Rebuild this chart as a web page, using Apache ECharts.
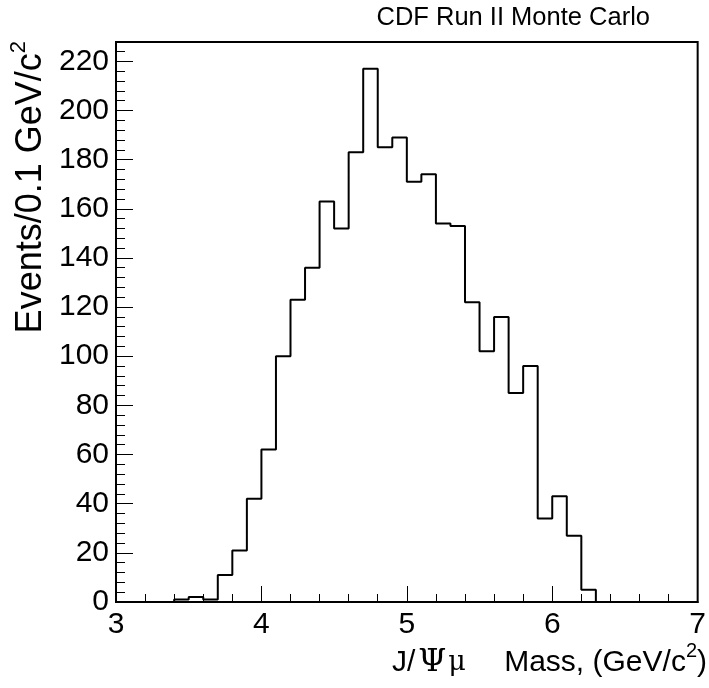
<!DOCTYPE html>
<html>
<head>
<meta charset="utf-8">
<script src="https://cdn.jsdelivr.net/npm/echarts@6/dist/echarts.min.js"></script>
<style>
  html, body { margin: 0; padding: 0; background: #fff; }
  #massChart { width: 709px; height: 688px; }
</style>
</head>
<body>
<div id="massChart"></div>
<script>
// bin low edges (GeV/c^2), 0.1 wide
var binLow = [3.0, 3.1, 3.2, 3.3, 3.4, 3.5, 3.6, 3.7, 3.8, 3.9,
              4.0, 4.1, 4.2, 4.3, 4.4, 4.5, 4.6, 4.7, 4.8, 4.9,
              5.0, 5.1, 5.2, 5.3, 5.4, 5.5, 5.6, 5.7, 5.8, 5.9,
              6.0, 6.1, 6.2, 6.3, 6.4, 6.5, 6.6, 6.7, 6.8, 6.9];
var binHigh = 7.0;
var counts = [0, 0, 0, 0, 1, 2, 1, 11, 21, 42,
              62, 100, 123, 136, 163, 152, 183, 217, 185, 189,
              171, 174, 154, 153, 122, 102, 116, 85, 96, 34,
              43, 27, 5, 0, 0, 0, 0, 0, 0, 0];
var xTicks = [3, 4, 5, 6, 7];
var yTicks = [0, 20, 40, 60, 80, 100, 120, 140, 160, 180, 200, 220];

var massChart = echarts.init(document.getElementById('massChart'));

var histData = [];
binLow.forEach(function (x, i) {
    histData.push([x, counts[i]]);
});
histData.push([binHigh, counts[counts.length - 1]]);

var yMax = Math.max.apply(null, counts) * 1.05;
var font = 'Liberation Sans, Arial, sans-serif';
var serif = 'DejaVu Serif, Liberation Serif, serif';

var option = {
    animation: false,
    backgroundColor: '#fff',
    grid: {
        left: 116,
        right: 7,
        top: 42,
        bottom: 86,
        show: true,
        borderColor: '#000',
        borderWidth: 2,
        backgroundColor: 'transparent'
    },
    xAxis: {
        type: 'value',
        min: xTicks[0],
        max: xTicks[xTicks.length - 1],
        interval: 1,
        axisLine: { show: true, lineStyle: { color: '#000', width: 2 } },
        axisTick: { inside: true, length: 16, lineStyle: { color: '#000', width: 1 } },
        minorTick: { show: true, splitNumber: 5, length: 8, lineStyle: { color: '#000', width: 1 } },
        splitLine: { show: false },
        axisLabel: { color: '#000', fontSize: 30, fontFamily: font, margin: 8 }
    },
    yAxis: {
        type: 'value',
        min: yTicks[0],
        max: yMax,
        interval: 20,
        axisLine: { show: true, lineStyle: { color: '#000', width: 2 } },
        axisTick: { inside: true, length: 17, lineStyle: { color: '#000', width: 1 } },
        minorTick: { show: true, splitNumber: 5, length: 9, lineStyle: { color: '#000', width: 1 } },
        splitLine: { show: false },
        axisLabel: {
            color: '#000', fontSize: 30, fontFamily: font, margin: 7,
            showMaxLabel: false
        }
    },
    graphic: [
        {
            type: 'text',
            right: 59,
            top: 5,
            style: { text: 'CDF Run II Monte Carlo', fill: '#000', fontSize: 25.5, fontFamily: font }
        },
        {
            // y title, reads bottom to top, top end at the frame
            type: 'text',
            x: 31,
            y: 41,
            rotation: Math.PI / 2,
            style: {
                text: '{a|Events/0.1 GeV/c}{sup|2}',
                textAlign: 'right',
                textVerticalAlign: 'middle',
                rich: {
                    a: { fill: '#000', fontSize: 36, fontFamily: font, lineHeight: 46 },
                    sup: { fill: '#000', fontSize: 22, fontFamily: font, lineHeight: 22, verticalAlign: 'top' }
                }
            }
        },
        {
            type: 'text',
            right: 2,
            top: 641,
            style: {
                text: '{a|J/}{psi|Ψ}{mu|μ}{a| Mass, (GeV/c}{sup|2}{a|)}',
                rich: {
                    a: { fill: '#000', fontSize: 30, fontFamily: font, lineHeight: 44 },
                    psi: { fill: '#000', fontSize: 32, fontFamily: serif, lineHeight: 44, padding: [0, 2, 0, 3] },
                    mu: { fill: '#000', fontSize: 27, fontFamily: serif, lineHeight: 44, padding: [0, 30, 0, 0] },
                    sup: { fill: '#000', fontSize: 20, fontFamily: font, lineHeight: 20, verticalAlign: 'top' }
                }
            }
        }
    ],
    series: [
        {
            name: 'J/psi mu mass',
            type: 'line',
            step: 'end',
            symbol: 'none',
            data: histData,
            lineStyle: { color: '#000', width: 2 },
            z: 3
        }
    ]
};

massChart.setOption(option);
</script>
</body>
</html>
